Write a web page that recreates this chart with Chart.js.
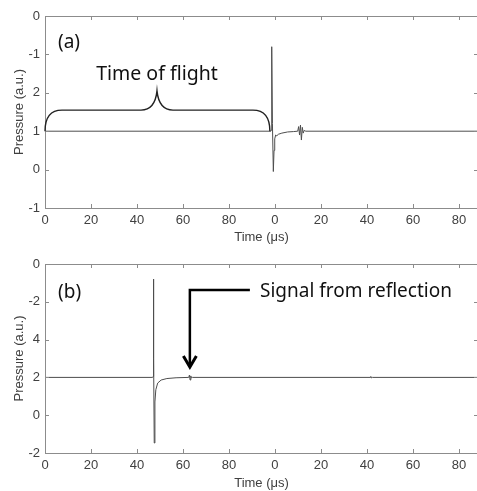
<!DOCTYPE html>
<html lang="en">
<head>
<meta charset="UTF-8">
<title>Pressure signals</title>
<script src="https://cdn.jsdelivr.net/npm/chart.js"></script>
<style>
    body { margin: 0; background: #fff; }
    #wrap { position: relative; width: 477px; height: 491px; overflow: hidden; }
    canvas { position: absolute; left: 0; }
    #chartA { top: 0; }
    #chartB { top: 245px; }
</style>
</head>
<body>
<div id="wrap">
    <canvas id="chartA" width="478" height="245"></canvas>
    <canvas id="chartB" width="478" height="246"></canvas>
</div>
<script>
// panel (a): time (us) and pressure (a.u.)
const timeA = [0, 98.2, 98.45, 98.6, 98.9, 99.3, 99.6, 99.9, 100.3, 100.8, 101.5, 103, 105.5, 108, 109.9, 110.3, 110.7, 111.1, 111.5, 111.9, 112.3, 112.7, 113.4, 188.3];
const pressureA = [1, 1, 1.03, 3.2, 1.2, -0.05, 0.5, 0.8, 0.9, 0.88, 0.92, 0.95, 0.98, 0.99, 1.0, 1.12, 0.9, 1.16, 0.77, 1.1, 0.95, 1.02, 1.0, 1];

// panel (b)
const timeB = [0, 46.8, 47.0, 47.15, 47.3, 47.5, 47.8, 48.2, 49, 50.5, 53, 57, 62.5, 62.8, 63.1, 63.4, 63.7, 64.1, 141.4, 141.7, 142.0, 142.4, 188.3];
const pressureB = [2, 2, 2.05, 7.2, 3.0, -1.47, 0.7, 1.35, 1.7, 1.86, 1.94, 1.98, 2.0, 2.12, 1.86, 2.08, 1.97, 2.0, 2.0, 2.05, 1.97, 2.0, 2];

// tick labels as printed on the figure
const xTickLabels = ['0', '20', '40', '60', '80', '0', '20', '40', '60', '80'];
const yTickLabelsA = ['-1', '0', '1', '2', '-1', '0'];
const yTickLabelsB = ['-2', '0', '2', '4', '-2', '0'];

const AXIS_COLOR = '#8c8c8c';
const TEXT_COLOR = '#404040';
const NOTE_FONT = '"Noto Sans", "Open Sans", sans-serif';

Chart.defaults.font.family = '"Liberation Sans", Arial, sans-serif';
Chart.defaults.font.size = 13;
Chart.defaults.color = TEXT_COLOR;

// box around the plot with inward ticks on all four sides
function drawFrame(chart) {
    const ctx = chart.ctx;
    const a = chart.chartArea;
    const xs = chart.scales.x, ys = chart.scales.y;
    const len = 4;
    ctx.save();
    ctx.strokeStyle = AXIS_COLOR;
    ctx.lineWidth = 1;
    ctx.beginPath();
    ctx.rect(Math.round(a.left) + 0.5, Math.round(a.top) + 0.5, Math.round(a.right - a.left), Math.round(a.bottom - a.top));
    xs.ticks.forEach(t => {
        const px = Math.round(xs.getPixelForValue(t.value)) + 0.5;
        ctx.moveTo(px, a.bottom); ctx.lineTo(px, a.bottom - len);
        ctx.moveTo(px, a.top); ctx.lineTo(px, a.top + len);
    });
    ys.ticks.forEach(t => {
        const py = Math.round(ys.getPixelForValue(t.value)) + 0.5;
        ctx.moveTo(a.left, py); ctx.lineTo(a.left + len, py);
        ctx.moveTo(a.right, py); ctx.lineTo(a.right - len, py);
    });
    ctx.stroke();
    ctx.restore();
}

function drawText(chart, text, t, v, size, align) {
    const ctx = chart.ctx;
    ctx.save();
    ctx.fillStyle = '#111';
    ctx.font = size + 'px ' + NOTE_FONT;
    ctx.textAlign = align;
    ctx.textBaseline = 'alphabetic';
    ctx.fillText(text, chart.scales.x.getPixelForValue(t), chart.scales.y.getPixelForValue(v));
    ctx.restore();
}

// curly brace over the time of flight
function drawBrace(chart, t0, t1, tMid, vBase, vTop, vPeak) {
    const ctx = chart.ctx;
    const xs = chart.scales.x, ys = chart.scales.y;
    const x0 = xs.getPixelForValue(t0), x1 = xs.getPixelForValue(t1), xc = xs.getPixelForValue(tMid);
    const yb = ys.getPixelForValue(vBase), yt = ys.getPixelForValue(vTop), yp = ys.getPixelForValue(vPeak);
    ctx.save();
    ctx.strokeStyle = '#222';
    ctx.lineWidth = 1.4;
    ctx.beginPath();
    ctx.moveTo(x0, yb);
    ctx.quadraticCurveTo(x0, yt, x0 + 17, yt);
    ctx.lineTo(xc - 16, yt);
    ctx.quadraticCurveTo(xc - 2, yt, xc, yp);
    ctx.quadraticCurveTo(xc + 2, yt, xc + 16, yt);
    ctx.lineTo(x1 - 17, yt);
    ctx.quadraticCurveTo(x1, yt, x1, yb);
    ctx.stroke();
    ctx.restore();
}

// elbow arrow pointing at the reflection
function drawArrow(chart, tTip, vTip, tEnd, vTop) {
    const ctx = chart.ctx;
    const xs = chart.scales.x, ys = chart.scales.y;
    const xt = xs.getPixelForValue(tTip), yt = ys.getPixelForValue(vTip);
    const xe = xs.getPixelForValue(tEnd), y0 = ys.getPixelForValue(vTop);
    ctx.save();
    ctx.strokeStyle = '#000';
    ctx.lineWidth = 2.5;
    ctx.beginPath();
    ctx.moveTo(xe, y0);
    ctx.lineTo(xt, y0);
    ctx.lineTo(xt, yt - 1);
    ctx.stroke();
    ctx.lineWidth = 3;
    ctx.beginPath();
    ctx.moveTo(xt - 6.5, yt - 11);
    ctx.lineTo(xt, yt);
    ctx.lineTo(xt + 6.5, yt - 11);
    ctx.stroke();
    ctx.restore();
}

function makeChart(id, time, pressure, yMin, yMax, yStep, yLabels, topPad, xHeight, notes) {
    const points = time.map((t, i) => ({ x: t, y: pressure[i] }));
    return new Chart(document.getElementById(id), {
        type: 'line',
        data: {
            datasets: [{
                data: points,
                borderColor: '#4d4d4d',
                borderWidth: 1,
                pointRadius: 0,
                tension: 0
            }]
        },
        options: {
            responsive: false,
            animation: false,
            devicePixelRatio: 1,
            layout: { padding: { left: 12, right: 0, top: topPad, bottom: 0 } },
            plugins: { legend: { display: false }, tooltip: { enabled: false } },
            scales: {
                x: {
                    type: 'linear',
                    min: 0,
                    max: 188.3,
                    grid: { display: false, drawTicks: false },
                    border: { display: false },
                    ticks: {
                        stepSize: 20,
                        includeBounds: false,
                        autoSkip: false,
                        maxRotation: 0,
                        padding: 5,
                        callback: (v, i) => xTickLabels[i]
                    },
                    title: { display: true, text: 'Time (\u03bcs)', padding: 0 },
                    afterFit: s => { s.height = xHeight; }
                },
                y: {
                    min: yMin,
                    max: yMax,
                    grid: { display: false, drawTicks: false },
                    border: { display: false },
                    ticks: {
                        stepSize: yStep,
                        autoSkip: false,
                        padding: 5,
                        callback: (v, i) => yLabels[i]
                    },
                    title: { display: true, text: 'Pressure (a.u.)', padding: 0 },
                    afterFit: s => { s.width = 33; }
                }
            }
        },
        plugins: [{
            id: 'notes',
            afterDraw: chart => { drawFrame(chart); notes(chart); }
        }]
    });
}

makeChart('chartA', timeA, pressureA, -1, 4, 1, yTickLabelsA, 16, 37, chart => {
    drawText(chart, '(a)', 5.65, 3.17, 19, 'left');
    drawText(chart, 'Time of flight', 48.7, 2.33, 19.5, 'center');
    drawBrace(chart, 0, 97.8, 48.7, 1, 1.55, 2.05);
});

makeChart('chartB', timeB, pressureB, -2, 8, 2, yTickLabelsB, 19, 38, chart => {
    drawText(chart, '(b)', 5.65, 6.2, 19, 'left');
    drawText(chart, 'Signal from reflection', 93.5, 6.27, 19, 'left');
    drawArrow(chart, 63.0, 2.55, 89.1, 6.62);
});
</script>
</body>
</html>
